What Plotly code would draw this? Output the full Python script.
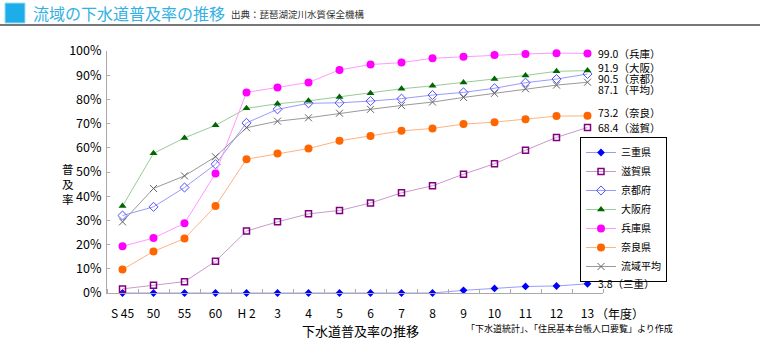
import plotly.graph_objects as go

categories = ["S 45", "50", "55", "60", "H 2", "3", "4", "5", "6", "7", "8", "9", "10", "11", "12", "13"]

series_names = ["三重県", "滋賀県", "京都府", "大阪府", "兵庫県", "奈良県", "流域平均"]

mie = [0, 0, 0, 0, 0, 0, 0, 0, 0, 0, 0, 1.1, 1.9, 2.7, 2.9, 3.8]
shiga = [1.7, 3.2, 4.7, 13.1, 25.6, 29.4, 32.7, 34.1, 37.2, 41.4, 44.3, 49.1, 53.4, 59.0, 64.3, 68.4]
kyoto = [32.0, 35.6, 43.6, 53.2, 70.3, 75.9, 78.4, 78.6, 79.3, 80.3, 81.8, 82.9, 84.6, 86.9, 88.4, 90.5]
osaka = [35.9, 57.7, 64.1, 69.3, 76.3, 78.2, 79.4, 81.0, 82.5, 84.4, 85.6, 87.0, 88.4, 89.9, 91.6, 91.9]
hyogo = [19.3, 22.7, 28.8, 49.4, 82.9, 84.9, 87.0, 92.2, 94.4, 95.2, 97.0, 97.6, 98.3, 98.8, 99.1, 99.0]
nara = [9.7, 17.2, 22.5, 35.9, 55.3, 57.6, 59.7, 62.9, 64.9, 67.0, 68.0, 69.8, 70.6, 71.8, 73.1, 73.2]
average = [29.4, 43.2, 48.4, 56.3, 68.3, 71.0, 72.4, 74.3, 75.9, 77.5, 78.9, 80.8, 82.5, 84.4, 85.9, 87.1]

end_labels = ["3.8（三重）", "68.4（滋賀）", "90.5（京都）", "91.9（大阪）", "99.0（兵庫）", "73.2（奈良）", "87.1（平均）"]
end_label_y = [4.0, 68.2, 88.7, 93.2, 99.0, 74.6, 84.2]

y_ticks = [0, 10, 20, 30, 40, 50, 60, 70, 80, 90, 100]
y_ticktext = [f"{v}%" for v in y_ticks]

title_text = "流域の下水道普及率の推移"
source_text = "出典：琵琶湖淀川水質保全機構"
x_title = "下水道普及率の推移"
y_title = "普<br>及<br>率"
note_text = "「下水道統計」、「住民基本台帳人口要覧」より作成"
unit_text = "（年度）"

FONT = "Noto Sans CJK JP, Noto Sans, sans-serif"

# plot-area geometry in page pixels
L, R, T, B = 107, 603, 51, 293
PW, PH = R - L, B - T


def px(x):
    return (x - L) / PW


def py(y):
    return (B - y) / PH


styles = [
    dict(line="#9a9aff", marker=dict(symbol="diamond", color="#0000ff", size=6)),
    dict(line="#cc99cc", marker=dict(symbol="square-open", color="#800080", size=6, line=dict(width=1.5, color="#800080"))),
    dict(line="#9a9aff", marker=dict(symbol="diamond-open", color="#5050ff", size=7, line=dict(width=1, color="#5050ff"))),
    dict(line="#99cc99", marker=dict(symbol="triangle-up", color="#006600", size=7)),
    dict(line="#ff99ff", marker=dict(symbol="circle", color="#ff00ff", size=8)),
    dict(line="#ffb380", marker=dict(symbol="circle", color="#ff6600", size=8)),
    dict(line="#999999", marker=dict(symbol="x-thin-open", color="#666666", size=7, line=dict(width=1, color="#666666"))),
]

data = [mie, shiga, kyoto, osaka, hyogo, nara, average]
x_idx = list(range(len(categories)))

fig = go.Figure()
for name, vals, st in zip(series_names, data, styles):
    fig.add_trace(go.Scatter(
        x=x_idx, y=vals, name=name, mode="lines+markers",
        line=dict(color=st["line"], width=1),
        marker=st["marker"], cliponaxis=False,
    ))

annotations = []
for lab, ly in zip(end_labels, end_label_y):
    annotations.append(dict(x=x_idx[-1], y=ly, xref="x", yref="y", text=lab, showarrow=False,
                            xanchor="left", yanchor="middle", xshift=8,
                            font=dict(size=10.5, color="#000", family=FONT)))

annotations += [
    dict(xref="x", yref="paper", x=x_idx[-1], y=py(313), yanchor="middle", xanchor="left", xshift=6,
         text=unit_text, showarrow=False, font=dict(size=12, color="#000", family=FONT)),
    dict(xref="paper", yref="paper", x=px(360), y=py(330), xanchor="center", yanchor="middle",
         text=x_title, showarrow=False, font=dict(size=13, color="#000", family=FONT)),
    dict(xref="paper", yref="paper", x=px(569), y=py(328), xanchor="center", yanchor="middle",
         text=note_text, showarrow=False, font=dict(size=9, color="#000", family=FONT)),
    dict(xref="paper", yref="paper", x=px(68), y=py(184), xanchor="center", yanchor="middle",
         text=y_title, showarrow=False, font=dict(size=11.5, color="#000", family=FONT)),
    dict(xref="paper", yref="paper", x=px(31), y=py(13), xanchor="left", yanchor="middle",
         text=title_text, showarrow=False, font=dict(size=16, color="#33b1e4", family=FONT)),
    dict(xref="paper", yref="paper", x=px(229), y=py(14), xanchor="left", yanchor="middle",
         text=source_text, showarrow=False, font=dict(size=9.5, color="#333", family=FONT)),
]

fig.update_layout(
    width=760, height=357,
    margin=dict(l=L, r=760 - R, t=T, b=357 - B, pad=0),
    paper_bgcolor="white", plot_bgcolor="white",
    font=dict(family=FONT, size=12, color="#000"),
    showlegend=True,
    legend=dict(x=px(580), y=py(137), xanchor="left", yanchor="top",
                bordercolor="#000", borderwidth=1, bgcolor="white",
                font=dict(size=10, family=FONT), tracegroupgap=0, itemwidth=30),
    xaxis=dict(range=[-0.5, 15.5], tickvals=x_idx, ticktext=categories, ticks="",
               showgrid=False, zeroline=False, showline=True, linecolor="#aaaaaa", linewidth=1,
               tickfont=dict(size=12, family=FONT), ticklabelstandoff=10,
               minor=dict(tick0=0.5, dtick=1, ticks="inside", ticklen=4, tickcolor="#aaaaaa")),
    yaxis=dict(range=[0, 100], tickvals=y_ticks, ticktext=y_ticktext, ticks="inside", ticklen=3,
               tickcolor="#aaaaaa", showgrid=False, zeroline=False, showline=True, linecolor="#aaaaaa",
               linewidth=1, tickfont=dict(size=12.5, family=FONT), ticklabelstandoff=2),
    annotations=annotations,
    shapes=[
        dict(type="rect", xref="paper", yref="paper",
             x0=px(5), x1=px(25), y0=py(23), y1=py(3),
             fillcolor="#1daee9", line=dict(color="#9fdcf5", width=1)),
        dict(type="line", xref="paper", yref="paper",
             x0=px(0), x1=px(760), y0=py(25), y1=py(25),
             line=dict(color="#777777", width=2)),
    ],
)

fig.write_html("out.html", config={"displayModeBar": False},
               post_script="document.body.style.margin='0';document.body.style.overflow='hidden';")
